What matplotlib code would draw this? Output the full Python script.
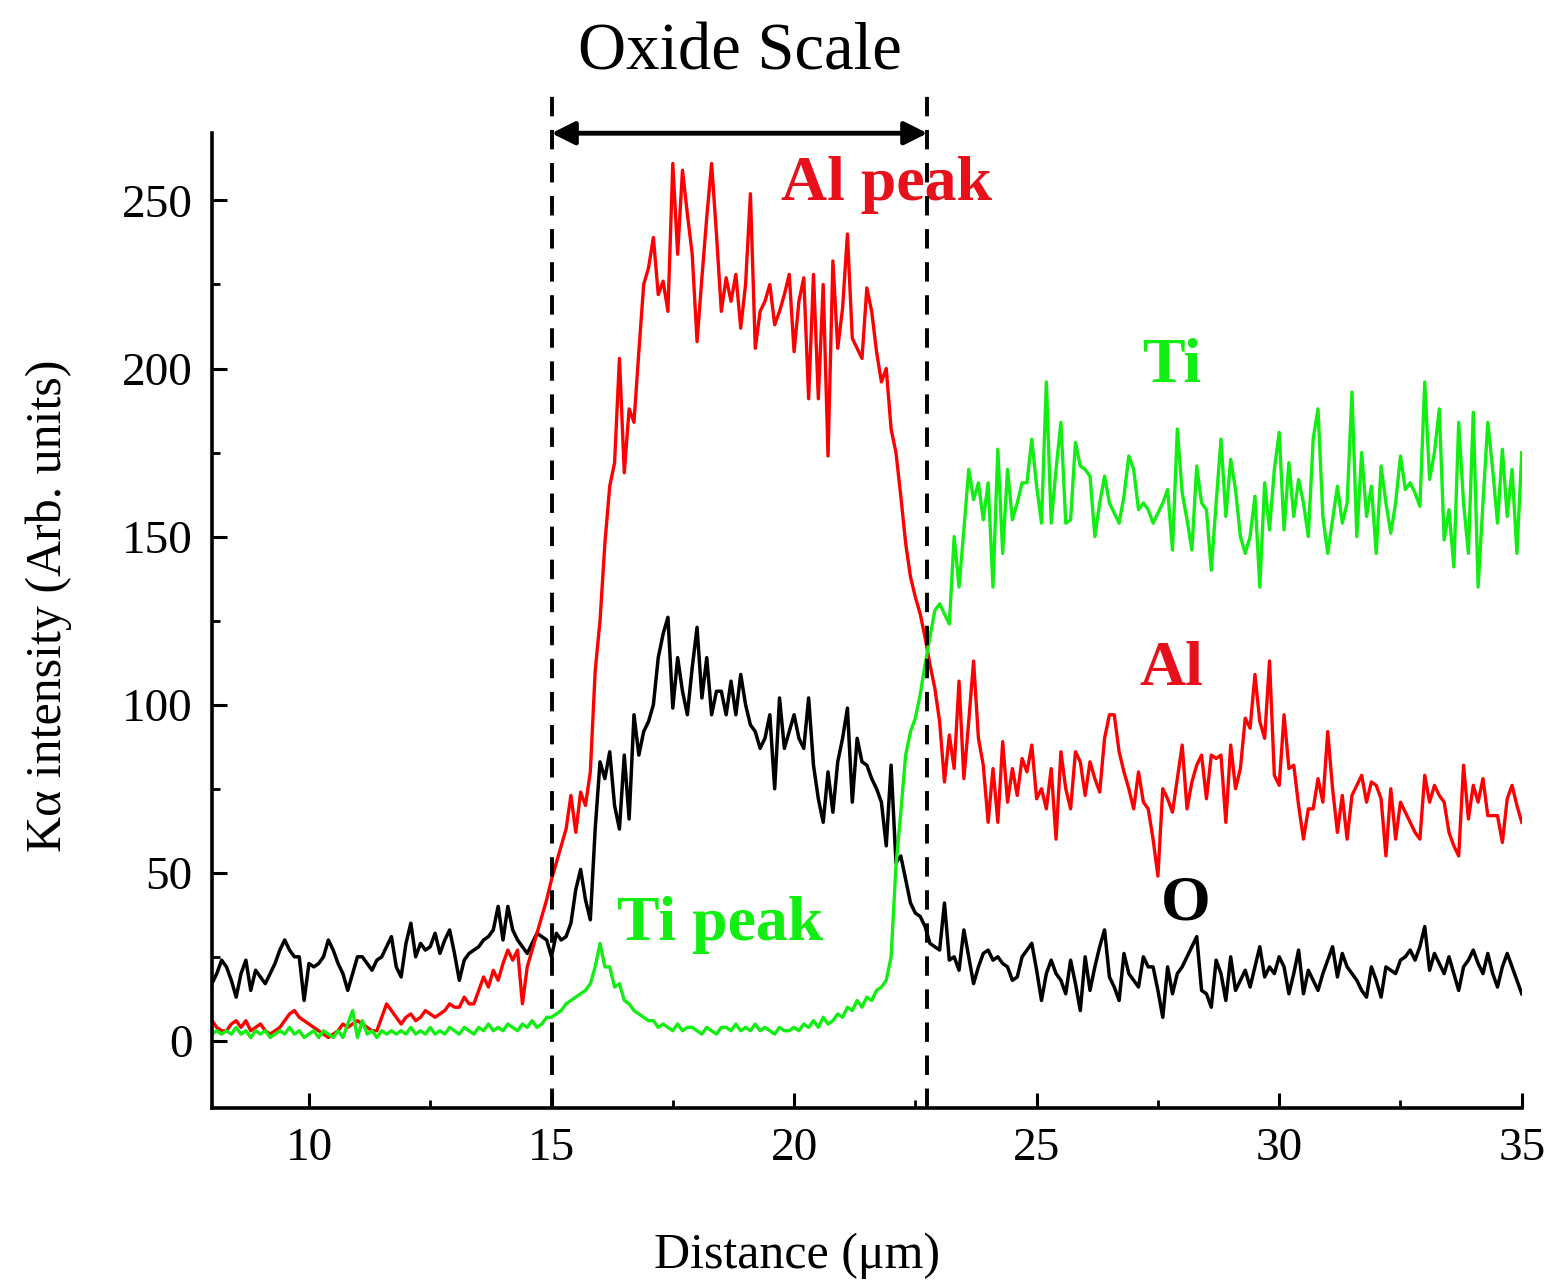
import numpy as np
import matplotlib.pyplot as plt
from matplotlib.ticker import MultipleLocator

plt.rcParams['font.family'] = ['Liberation Serif', 'DejaVu Serif']

# distance axis, 0.1 um steps from 8 to 35
distance = np.round(np.arange(80, 351) / 10.0, 1)

# O K-alpha line scan (black)
o_counts = [
    17, 20, 24, 22, 18, 13, 20, 24, 15, 21,
    19, 17, 20, 23, 27, 30, 27, 25, 25, 12,
    23, 22, 23, 25, 30, 27, 23, 20, 15, 20,
    25, 25, 23, 21, 24, 25, 28, 31, 22, 19,
    29, 35, 25, 29, 27, 28, 32, 26, 30, 33,
    26, 18, 24, 26, 27, 28, 30, 31, 33, 40,
    30, 40, 33, 30, 28, 26, 29, 32, 31, 30,
    25, 32, 30, 31, 35, 45, 51, 42, 36, 63,
    83, 78, 86, 70, 63, 85, 66, 97, 85, 92,
    95, 100, 114, 121, 126, 99, 114, 104, 97, 111,
    123, 102, 114, 97, 104, 104, 97, 107, 97, 109,
    100, 94, 92, 87, 90, 97, 75, 102, 87, 92,
    97, 90, 87, 102, 82, 72, 65, 80, 68, 83,
    90, 99, 71, 90, 83, 82, 78, 75, 71, 58,
    82, 53, 55, 48, 41, 38, 37, 34, 29, 28,
    27, 41, 24, 25, 21, 33, 25, 17, 22, 26,
    27, 24, 25, 23, 22, 18, 19, 25, 27, 29,
    21, 12, 20, 24, 20, 18, 14, 24, 17, 9,
    25, 15, 22, 28, 33, 19, 16, 12, 26, 20,
    18, 16, 25, 22, 22, 15, 7, 22, 14, 20,
    22, 25, 28, 31, 15, 14, 10, 24, 20, 12,
    25, 15, 18, 21, 16, 22, 28, 19, 22, 20,
    25, 22, 14, 20, 27, 14, 21, 18, 15, 20,
    24, 28, 19, 26, 22, 20, 18, 15, 13, 22,
    18, 13, 22, 21, 20, 24, 25, 27, 24, 28,
    34, 21, 26, 23, 20, 25, 20, 15, 22, 24,
    27, 23, 20, 26, 20, 16, 22, 26, 22, 18,
    14,
]

# Al K-alpha line scan (red)
al_counts = [
    6, 4, 3, 3, 5, 6, 4, 6, 3, 4,
    5, 3, 2, 3, 4, 6, 8, 9, 7, 6,
    5, 4, 3, 2, 1, 2, 3, 5, 4, 5,
    6, 5, 4, 3, 3, 7, 11, 9, 7, 5,
    7, 8, 6, 7, 9, 8, 7, 8, 9, 11,
    10, 10, 13, 11, 11, 15, 19, 16, 21, 18,
    23, 27, 24, 27, 11, 22, 27, 32, 37, 42,
    48, 53, 58, 63, 73, 62, 74, 70, 80, 110,
    125, 148, 165, 172, 203, 169, 188, 184, 205, 225,
    230, 239, 222, 226, 217, 261, 234, 259, 246, 234,
    208, 227, 245, 261, 240, 217, 227, 220, 228, 212,
    225, 252, 206, 217, 220, 225, 213, 217, 222, 228,
    205, 220, 227, 191, 228, 191, 225, 174, 232, 206,
    218, 240, 209, 206, 203, 224, 217, 205, 196, 200,
    182, 175, 162, 148, 138, 132, 127, 120, 112, 105,
    95, 77, 91, 81, 107, 78, 95, 113, 90, 82,
    65, 81, 65, 89, 71, 81, 73, 84, 80, 88,
    72, 75, 69, 81, 60, 86, 75, 69, 86, 83,
    73, 83, 78, 74, 90, 97, 97, 86, 80, 75,
    69, 80, 71, 69, 60, 49, 75, 72, 68, 78,
    88, 69, 77, 82, 85, 72, 85, 84, 85, 65,
    88, 75, 81, 96, 93, 109, 95, 90, 113, 79,
    76, 97, 81, 82, 70, 60, 69, 69, 78, 71,
    92, 75, 62, 73, 60, 73, 76, 79, 71, 77,
    76, 72, 55, 75, 60, 71, 68, 65, 62, 60,
    79, 71, 76, 73, 71, 62, 58, 55, 82, 66,
    76, 71, 78, 67, 67, 67, 59, 72, 76, 70,
    65,
]

# Ti K-alpha line scan (green)
ti_counts = [
    2, 3, 2, 3, 2, 4, 2, 3, 1, 3,
    2, 3, 1, 2, 3, 2, 4, 2, 3, 1,
    2, 3, 1, 3, 2, 1, 3, 1, 5, 9,
    1, 6, 2, 3, 1, 3, 2, 3, 2, 3,
    2, 4, 2, 3, 2, 4, 2, 3, 2, 4,
    3, 2, 4, 3, 2, 4, 3, 5, 3, 4,
    3, 5, 4, 3, 5, 4, 6, 4, 5, 7,
    7, 8, 9, 11, 12, 13, 14, 15, 17, 22,
    29, 22, 22, 16, 17, 12, 11, 9, 8, 7,
    6, 6, 4, 5, 4, 3, 5, 3, 4, 4,
    3, 2, 4, 3, 2, 4, 4, 3, 5, 3,
    4, 3, 5, 3, 4, 3, 2, 4, 3, 3,
    4, 3, 5, 4, 6, 4, 7, 5, 6, 8,
    7, 10, 9, 12, 10, 13, 12, 15, 16, 18,
    25, 52, 68, 85, 92, 96, 103, 112, 120, 128,
    130, 127, 124, 150, 135, 152, 170, 161, 166, 155,
    166, 135, 176, 145, 170, 155, 160, 166, 166, 179,
    165, 154, 196, 154, 170, 184, 154, 155, 178, 171,
    170, 168, 150, 160, 168, 160, 157, 154, 162, 174,
    170, 158, 160, 158, 154, 157, 160, 164, 146, 182,
    163, 155, 146, 171, 160, 158, 140, 160, 179, 156,
    173, 164, 150, 145, 150, 162, 135, 166, 152, 170,
    181, 152, 172, 156, 167, 160, 150, 179, 188, 156,
    145, 155, 165, 154, 160, 193, 150, 175, 156, 165,
    145, 171, 160, 151, 160, 174, 164, 166, 163, 159,
    196, 167, 175, 188, 149, 158, 141, 184, 160, 145,
    187, 135, 160, 184, 170, 154, 176, 156, 170, 145,
    175,
]

# oxide scale boundaries (um)
oxide_start = 15.0
oxide_end = 22.75

red = '#ff0000'
green = '#11ee11'

fig = plt.figure(figsize=(15.56, 12.81), dpi=100)
ax = fig.add_axes([0.1362, 0.135, 0.8418, 0.761])

ax.plot(distance, o_counts, color='black', lw=2.5)
ax.plot(distance, al_counts, color=red, lw=2.4)
ax.plot(distance, ti_counts, color=green, lw=2.4)

# oxide scale markers
for xb in (oxide_start, oxide_end):
    ax.plot([xb, xb], [-20, 283], color='black', lw=2.8,
            ls=(0, (5, 3.5)), clip_on=False, zorder=5)
ax.annotate('', xy=(oxide_start, 270), xytext=(oxide_end, 270),
            arrowprops=dict(arrowstyle='<|-|>', color='black', lw=3.5,
                            mutation_scale=35, shrinkA=0, shrinkB=0),
            annotation_clip=False)
ax.text((oxide_start + oxide_end) / 2, 289, 'Oxide Scale', fontsize=48,
        ha='center', va='baseline', clip_on=False)

# curve labels
bold = dict(fontsize=46, fontweight='bold', va='baseline')
ax.text(21.9, 250, 'Al peak', color='#e8101a', ha='center', **bold)
ax.text(27.78, 196, 'Ti', color=green, ha='center', **bold)
ax.text(27.78, 106, 'Al', color='#e8101a', ha='center', **bold)
ax.text(28.07, 36, 'O', color='black', ha='center', **bold)
ax.text(18.48, 30, 'Ti peak', color=green, ha='center', **bold)

ax.set_xlim(8, 35)
ax.set_ylim(-20, 270)
ax.xaxis.set_major_locator(MultipleLocator(5))
ax.xaxis.set_minor_locator(MultipleLocator(2.5))
ax.yaxis.set_major_locator(MultipleLocator(50))
ax.yaxis.set_minor_locator(MultipleLocator(25))
ax.tick_params(which='major', direction='in', length=11, width=2.2,
               labelsize=34, pad=14)
ax.tick_params(which='minor', direction='in', length=6, width=2)
for side in ('top', 'right'):
    ax.spines[side].set_visible(False)
for side in ('left', 'bottom'):
    ax.spines[side].set_linewidth(2.6)

ax.set_xlabel('Distance (\u03bcm)', fontsize=36)
ax.xaxis.set_label_coords(0.447, -0.128)
ax.set_ylabel('K\u03b1 intensity (Arb. units)', fontsize=36)
ax.yaxis.set_label_coords(-0.107, 0.515)

fig.savefig('out.png', dpi=100)
